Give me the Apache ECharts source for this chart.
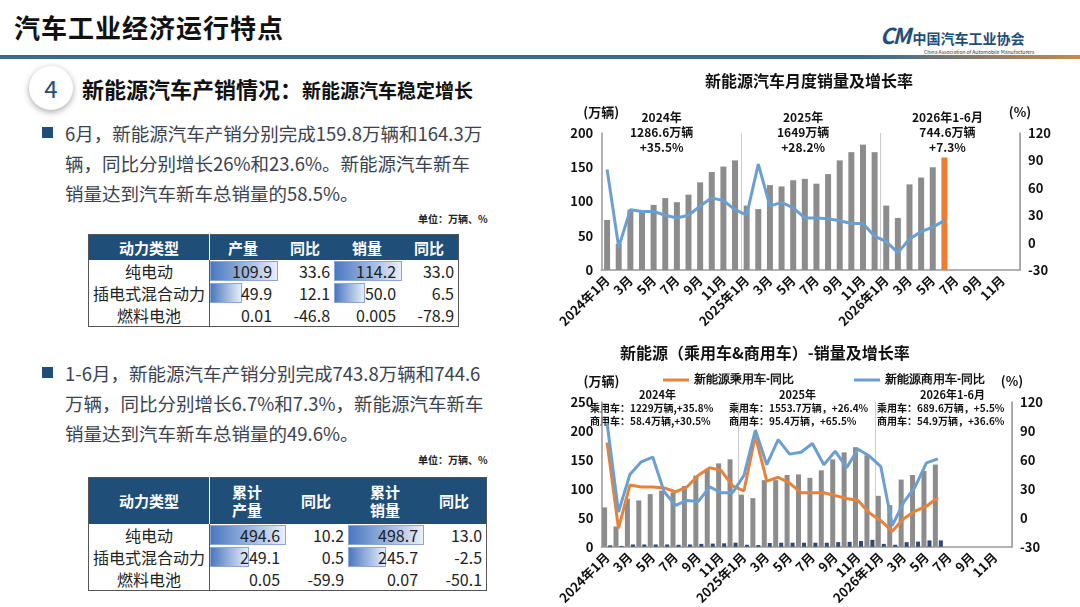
<!DOCTYPE html>
<html><head><meta charset="utf-8">
<script src="https://cdn.jsdelivr.net/npm/echarts@6/dist/echarts.min.js"></script>
<style>
body{margin:0;width:1080px;height:607px;background:#fff;font-family:"Noto Sans CJK SC",sans-serif;position:relative;overflow:hidden;color:#3b4250}
.abs{position:absolute}
#title{left:14px;top:8px;font-size:26px;font-weight:bold;color:#111;letter-spacing:1px}
#rule{left:0;top:55px;width:1080px;height:4px;background:linear-gradient(90deg,#3b6b90 0%,#3b6b90 80%,#c98a4a 100%)}
#logo{left:880px;top:18px;font-size:14px;font-weight:bold;color:#1f4e79}
#logo small{display:block;font-size:5px;font-weight:normal;color:#333;margin-left:44px;margin-top:-2px}
#circ{left:29px;top:66px;width:44px;height:44px;border-radius:50%;background:#fff;box-shadow:0 2px 6px rgba(0,0,0,.35);text-align:center;line-height:44px;font-size:24px;color:#1f4e79}
#head{left:82px;top:72px;font-size:22px;font-weight:bold;color:#111}
#head span{font-size:19px}
.para{left:42px;font-size:18.5px;line-height:30px;width:520px;color:#3b4250;white-space:nowrap}
.para .sq{position:absolute;left:0;top:9px;width:11px;height:11px;background:#1f4e79}
.para div{margin-left:23px}
.unit{font-size:10px;font-weight:bold;color:#222}
table{border-collapse:collapse;font-size:16px;color:#222;position:absolute;white-space:nowrap}
th{background:#1f4e79;color:#fff;font-weight:bold;font-size:15px;line-height:18px}
td{text-align:right;padding:0 4px;height:22px;line-height:22px;position:relative}
td.n{text-align:center;border-right:1px solid #555}
th.n{border-right:1px solid #fff}
.bar{position:absolute;left:0;top:1px;bottom:1px;background:linear-gradient(90deg,#4a78c0,#e8eef8);border:1px solid #8aa6d6;z-index:0}
td span{position:relative;z-index:1}
</style></head><body>
<div class="abs" id="title">汽车工业经济运行特点</div>
<div class="abs" id="rule"></div>
<div class="abs" id="logo"><span style="font-size:22px;font-style:italic;letter-spacing:-2px">CM</span> 中国汽车工业协会<small>China Association of Automobile Manufacturers</small></div>
<div class="abs" id="circ">4</div>
<div class="abs" id="head">新能源汽车产销情况：<span>新能源汽车稳定增长</span></div>
<div class="abs para" style="top:118px"><i class="sq"></i><div>6月，新能源汽车产销分别完成159.8万辆和164.3万<br>辆，同比分别增长26%和23.6%。新能源汽车新车<br>销量达到汽车新车总销量的58.5%。</div></div>
<div class="abs unit" style="left:418px;top:211px">单位：万辆、%</div>
<div class="abs para" style="top:358px"><i class="sq"></i><div>1-6月，新能源汽车产销分别完成743.8万辆和744.6<br>万辆，同比分别增长6.7%和7.3%，新能源汽车新车<br>销量达到汽车新车总销量的49.6%。</div></div>
<div class="abs unit" style="left:418px;top:452px">单位：万辆、%</div>
<div id="t1"></div><div id="t2"></div>
<div class="abs" id="c1" style="left:555px;top:64px;width:525px;height:281px"></div>
<div class="abs" id="c2" style="left:555px;top:338px;width:525px;height:269px"></div>
<script>
// ---- tables ----
const powerTypes=['纯电动','插电式混合动力','燃料电池'];
const junProd=['109.9','49.9','0.01'], junProdYoy=['33.6','12.1','-46.8'];
const junSales=['114.2','50.0','0.005'], junSalesYoy=['33.0','6.5','-78.9'];
const cumProd=['494.6','249.1','0.05'], cumProdYoy=['10.2','0.5','-59.9'];
const cumSales=['498.7','245.7','0.07'], cumSalesYoy=['13.0','-2.5','-50.1'];
const head1=['动力类型','产量','同比','销量','同比'];
const head2=['动力类型','累计<br>产量','同比','累计<br>销量','同比'];
function barCell(v,arr){const m=Math.max(...arr.map(Number));const p=Number(v)/m*100;return `<td>${p>1?`<i class="bar" style="width:${p}%"></i>`:''}<span>${v}</span></td>`;}
function mk(id,heads,a,b,c,d,left,top,widths,hh){
 let h=`<table style="left:${left}px;top:${top}px;border:1px solid #555"><tr>`+heads.map((x,i)=>`<th class="${i==0?'n':''}" style="width:${widths[i]}px;height:${hh}px">${x}</th>`).join('')+'</tr>';
 powerTypes.forEach((t,i)=>{h+=`<tr><td class="n">${t}</td>${barCell(a[i],a)}<td>${b[i]}</td>${barCell(c[i],c)}<td>${d[i]}</td></tr>`;});
 document.getElementById(id).innerHTML=h+'</table>';
}
mk('t1',head1,junProd,junProdYoy,junSales,junSalesYoy,88,234,[118,64,56,64,56],23);
mk('t2',head2,cumProd,cumProdYoy,cumSales,cumSalesYoy,88,477,[112,72,62,72,62],44);

// ---- chart data ----
const months=[];
[2024,2025,2026].forEach(y=>{for(let m=1;m<=12;m++)months.push(m===1?y+'年1月':m+'月');});
const nevSales=[73,38,88,85,95,105,99,110,128,143,151,160, 94,89,124,122,131,133,126,140,160,172,183,172, 94,76,125,135,150,164.3];
const nevYoy=[80,-5,36,34,34,30,27,30,40,49,46,36, 30,86,40,44,38,27,27,26,24,21,21,7, 1,-11,4,12,17,24];
const pvSales=[68,35,83,80,91,97,94,105,123,134,144,151, 90,84,115,115,124,125,119,132,151,163,172,158, 88,72,116,124,131,142];
const cvSales=[2.5,1.5,4,4,4,4,3.5,4,5,5.5,6,7, 3.5,3,6.5,7,7,7,7,7,8,8.5,10,12, 5,3.5,8,9,11,11];
const pvYoy=[78,-11,34,32,32,31,27,32,44,52,49,33, 28,85,38,42,36,26,26,26,23,20,18,5, -3,-14,-1,7,12,21];
const cvYoy=[98,6,45,58,63,27,13,18,17,32,26,26, 44,91,55,81,66,68,77,55,69,52,71,64, 53,-8,16,32,57,61];
const lastIdx=nevSales.length-1;

const axisTxt={color:'#111',fontWeight:'bold',fontSize:13,fontFamily:'Noto Sans CJK SC'};
function xAxis(){return {type:'category',data:months,axisTick:{show:false},
 axisLine:{lineStyle:{color:'#999',width:1.5}},
 axisLabel:Object.assign({interval:1,rotate:45,fontSize:12},axisTxt),
 splitLine:{show:true,interval:(i)=>i===12||i===24,lineStyle:{color:'#ccc'}}};}
function yAxes(max,interval){return [
 {type:'value',min:0,max:max,interval:interval,name:'(万辆)',nameGap:14,nameTextStyle:Object.assign({align:'center',fontSize:11},axisTxt),
  axisLine:{show:true,lineStyle:{color:'#999',width:1.5}},splitLine:{show:false},axisLabel:axisTxt},
 {type:'value',min:-30,max:120,interval:30,name:'(%)',nameGap:14,nameTextStyle:Object.assign({fontSize:11},axisTxt),
  axisLine:{show:true,lineStyle:{color:'#999',width:1.5}},splitLine:{show:false},axisLabel:axisTxt}];}
function txt(x,y,t,align,fs){return {type:'text',left:x,top:y,style:{text:t,fill:'#111',font:'bold '+(fs||12)+'px "Noto Sans CJK SC"',textAlign:align||'center',lineHeight:fs?13:15}};}

const c1=echarts.init(document.getElementById('c1'));
c1.setOption({animation:false,
 title:{text:'新能源汽车月度销量及增长率',left:145,top:4,textStyle:{fontSize:16,fontWeight:'bold',color:'#111',fontFamily:'Noto Sans CJK SC'}},
 grid:{left:37,right:60,top:69,bottom:75},
 xAxis:xAxis(),yAxis:yAxes(200,50),
 graphic:[txt(75,46,'2024年\n1286.6万辆\n+35.5%'),txt(222,46,'2025年\n1649万辆\n+28.2%'),txt(357,46,'2026年1-6月\n744.6万辆\n+7.3%')],
 series:[
  {type:'bar',barWidth:6,data:nevSales.map((v,i)=>({value:v,itemStyle:{color:i===lastIdx?'#ed7d31':'#8c8c8c'}}))},
  {type:'line',yAxisIndex:1,data:nevYoy,symbol:'none',lineStyle:{color:'#6a9fcf',width:3}}]});

const c2=echarts.init(document.getElementById('c2'));
c2.setOption({animation:false,
 title:{text:'新能源（乘用车&商用车）-销量及增长率',left:60,top:2,textStyle:{fontSize:16,fontWeight:'bold',color:'#111',fontFamily:'Noto Sans CJK SC'}},
 legend:{top:31,left:103,itemGap:60,itemWidth:26,itemHeight:3,icon:'rect',data:['新能源乘用车-同比','新能源商用车-同比'],textStyle:{fontSize:12,fontWeight:'bold',color:'#111'}},
 grid:{left:37,right:68,top:64,bottom:59},
 xAxis:xAxis(),yAxis:yAxes(250,50),
 graphic:[txt(84,50,'2024年','center',11),txt(224,50,'2025年','center',11),txt(365,50,'2026年1-6月','center',11),
  txt(35,64,'乘用车：1229万辆,+35.8%\n商用车：58.4万辆,+30.5%','left',10),
  txt(174,64,'乘用车：1553.7万辆，+26.4%\n商用车：95.4万辆，+65.5%','left',10),
  txt(322,64,'乘用车：689.6万辆，+5.5%\n商用车：54.9万辆，+36.6%','left',10)],
 series:[
  {name:'新能源乘用车',type:'bar',barWidth:5,barGap:'20%',data:pvSales,itemStyle:{color:'#8c8c8c'}},
  {name:'新能源商用车',type:'bar',barWidth:4,data:cvSales,itemStyle:{color:'#2e4a6e'}},
  {name:'新能源乘用车-同比',type:'line',yAxisIndex:1,data:pvYoy,symbol:'none',lineStyle:{color:'#e8823a',width:3},itemStyle:{color:'#e8823a'}},
  {name:'新能源商用车-同比',type:'line',yAxisIndex:1,data:cvYoy,symbol:'none',lineStyle:{color:'#6a9fcf',width:3},itemStyle:{color:'#6a9fcf'}}]});
</script></body></html>
